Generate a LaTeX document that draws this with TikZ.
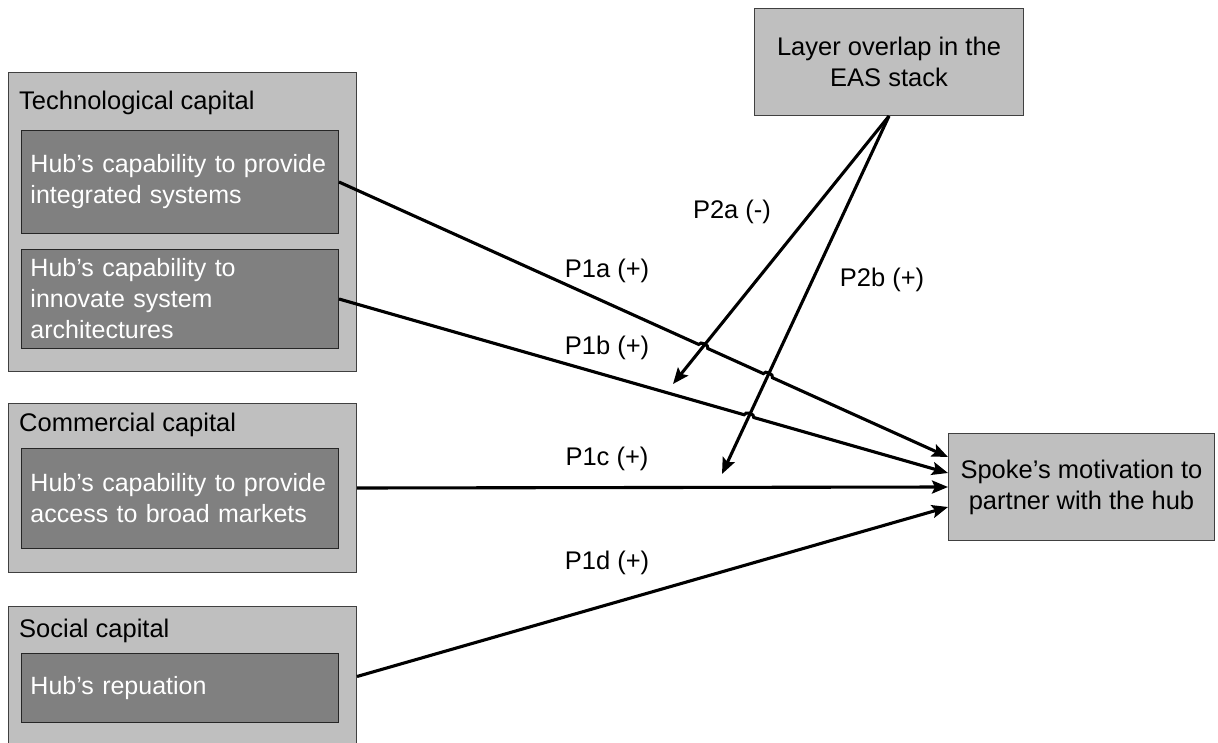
\documentclass[tikz,border=0pt]{standalone}
\usepackage{fontspec}
\setmainfont{Liberation Sans}
\usetikzlibrary{arrows.meta,calc,intersections}
\hyphenpenalty=10000
\exhyphenpenalty=10000
\tikzset{
	txt/.style={font=\fontsize{25.5}{31}\selectfont},
	outerbox/.style={draw=black!75,fill=black!25,line width=1pt,anchor=north west,inner sep=0pt},
	innerbox/.style={font=\fontsize{25}{31}\selectfont,draw=black!85,fill=black!50,line width=1pt,anchor=north west,text=white,align=left,inner xsep=9pt,text width=299pt,minimum height=#1},
	greybox/.style={txt,draw=black!75,fill=black!25,line width=1pt,align=center,anchor=north west,inner sep=0pt},
	title/.style={txt,anchor=west,inner sep=0pt},
	link/.style={line width=3.1pt},
	lab/.style={txt,inner sep=0pt}
}
\begin{document}
\begin{tikzpicture}[x=1pt,y=-1pt,>={Stealth[length=16pt,width=13pt,inset=3pt]}]
	\useasboundingbox (0,0) rectangle (1218,743);
	% capitals
	\node[outerbox,minimum width=348pt,minimum height=299pt] (tech) at (8,72) {};
	\node[outerbox,minimum width=348pt,minimum height=169pt] (com) at (8,403) {};
	\node[outerbox,minimum width=348pt,minimum height=140pt] (soc) at (8,606) {};
	\node[title] (techT) at (19,103) {Technological capital};
	\node[title] (comT) at (19,425) {Commercial capital};
	\node[title] (socT) at (19,631) {Social capital};
	\node[innerbox=103pt] (in1) at (21,130) {\mbox{Hub’s capability to provide}\\integrated systems};
	\node[innerbox=99pt] (in2) at (21,249) {Hub’s capability to\\innovate system\\architectures};
	\node[innerbox=100pt] (in3) at (21,448) {\mbox{Hub’s capability to provide}\\access to broad markets};
	\node[innerbox=69pt] (in4) at (21,653) {Hub’s repuation};
	% moderator and outcome
	\node[greybox,minimum width=269pt,minimum height=107pt] (lay) at (754,8) {Layer overlap in the\\EAS stack};
	\node[greybox,minimum width=266pt,minimum height=107pt] (spoke) at (948,433) {Spoke’s motivation to\\partner with the hub};
	\coordinate (ta) at (673,384);
	\coordinate (tb) at (722,474);
	\coordinate (s1) at ($(spoke.north west)+(0,24)$);
	\coordinate (s2) at ($(spoke.north west)+(0,40)$);
	\coordinate (s3) at ($(spoke.north west)+(0,54)$);
	\coordinate (s4) at ($(spoke.north west)+(0,74)$);
	% crossings
	\path[name path=la] (in1.east) -- (s1);
	\path[name path=lb] (in2.east) -- (s2);
	\path[name path=ma] (lay.south) -- (ta);
	\path[name path=mb] (lay.south) -- (tb);
	\path[name intersections={of=la and ma,by=xa}];
	\path[name intersections={of=la and mb,by=xb}];
	\path[name intersections={of=lb and mb,by=xc}];
	% arrows
	\draw[link,->] (in1.east) -- ($(xa)!5pt!(in1.east)$) to[bend left=90] ($(xa)!5pt!(s1)$)
		-- ($(xb)!5pt!(xa)$) to[bend left=90] ($(xb)!5pt!(s1)$) -- (s1);
	\draw[link,->] (in2.east) -- ($(xc)!5pt!(in2.east)$) to[bend left=90] ($(xc)!5pt!(s2)$) -- (s2);
	\draw[link,->] (com.east) -- (s3);
	\draw[link,->] (soc.east) -- (s4);
	\draw[link,->] (lay.south) -- (ta);
	\draw[link,->] (lay.south) -- (tb);
	% labels
	\node[lab] (l1a) at (607,271) {P1a (+)};
	\node[lab] (l1b) at (607,348) {P1b (+)};
	\node[lab] (l1c) at (607,459) {P1c (+)};
	\node[lab] (l1d) at (607,563) {P1d (+)};
	\node[lab] (l2a) at (732,212) {P2a (-)};
	\node[lab] (l2b) at (882,280) {P2b (+)};
\end{tikzpicture}
\end{document}
